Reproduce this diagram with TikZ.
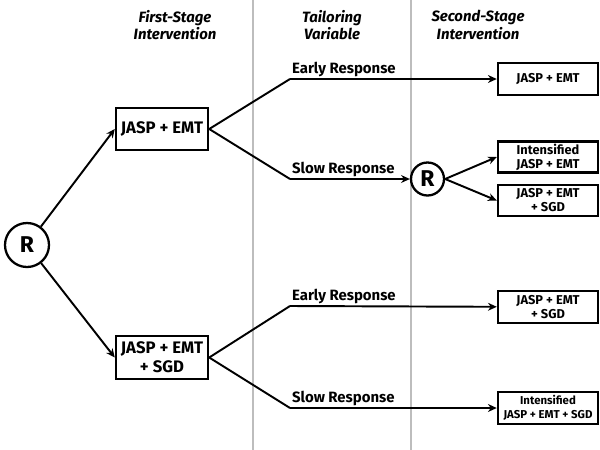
\documentclass[tikz,border=0pt]{standalone}
\usepackage{fontspec}
\setmainfont{Fira Sans}
\usepackage{xcolor}
\usetikzlibrary{arrows.meta,positioning}
\definecolor{cline}{HTML}{BDBDBD}
\definecolor{cink}{HTML}{000000}
\tikzset{
  rand/.style={draw=cink,circle,line width=1.3pt,inner sep=0pt,font=\bfseries\fontsize{13}{14}\selectfont},
  stagebox/.style={draw=cink,line width=1.4pt,minimum width=1.84cm,inner sep=1pt,align=center,font=\bfseries\fontsize{9.5}{11}\selectfont},
  optbox/.style={draw=cink,line width=1.4pt,minimum width=2.0cm,minimum height=0.64cm,inner sep=0.5pt,align=center,font=\bfseries\fontsize{7.3}{8}\selectfont},
  arm/.style={draw=cink,line width=1.1pt,-{Stealth[length=5pt,width=4.5pt]}},
  seg/.style={draw=cink,line width=1.1pt},
  resp/.style={font=\bfseries\fontsize{8.5}{10}\selectfont,anchor=south west,inner sep=1pt},
  head/.style={font=\bfseries\itshape\fontsize{8.5}{10}\selectfont,align=center},
}
\begin{document}
\begin{tikzpicture}
\useasboundingbox (0,0) rectangle (12,-9);

% ================= stage columns =================
\draw[cline,line width=0.6pt] (5.06,0) -- (5.06,-9);
\draw[cline,line width=0.6pt] (8.22,0) -- (8.22,-9);
\node[head] (h1) at (3.5,-0.5) {First-Stage\\Intervention};
\node[head] (h2) at (6.64,-0.5) {Tailoring\\Variable};
\node[head] (h3) at (9.56,-0.5) {Second-Stage\\Intervention};

% ================= first randomization =================
\node[rand,minimum size=0.88cm] (r1) at (0.54,-4.9) {R};
\node[stagebox,minimum height=0.84cm] (a1) at (3.24,-2.58) {JASP + EMT};
\node[stagebox,minimum height=0.86cm] (a2) at (3.24,-7.15) {JASP + EMT\\+ SGD};
\draw[arm] (r1) -- (a1.west);
\draw[arm] (r1) -- (a2.west);

% ================= tailoring =================
\coordinate (k1) at (5.8,-1.58);
\coordinate (k2) at (5.8,-3.58);
\coordinate (k3) at (5.8,-6.12);
\coordinate (k4) at (5.8,-8.16);
\draw[seg] (a1.east) -- (k1);
\draw[seg] (a1.east) -- (k2);
\draw[seg] (a2.east) -- (k3);
\draw[seg] (a2.east) -- (k4);
\node[resp] (e1) at (k1) {Early Response};
\node[resp] (l1) at (k2) {Slow Response};
\node[resp] (e2) at (k3) {Early Response};
\node[resp] (l2) at (k4) {Slow Response};

% ================= second stage =================
\node[rand,minimum size=0.66cm] (r2) at (8.55,-3.58) {R};
\node[optbox] (b1) at (10.96,-1.58) {JASP + EMT};
\node[optbox,minimum height=0.62cm] (b2) at (10.96,-3.14) {Intensified\\JASP + EMT};
\node[optbox,minimum height=0.62cm] (b3) at (10.96,-4.01) {JASP + EMT\\+ SGD};
\node[optbox] (b4) at (10.96,-6.14) {JASP + EMT\\+ SGD};
\node[optbox,font=\bfseries\fontsize{6.5}{8}\selectfont] (b5) at (10.96,-8.16) {Intensified\\JASP + EMT + SGD};
\draw[arm] (k1) -- (b1);
\draw[arm] (k2) -- (r2);
\draw[arm] (r2.east) -- (b2.west);
\draw[arm] (r2.east) -- (b3.west);
\draw[arm] (k3) -- (b4);
\draw[arm] (k4) -- (b5);

\end{tikzpicture}
\end{document}
